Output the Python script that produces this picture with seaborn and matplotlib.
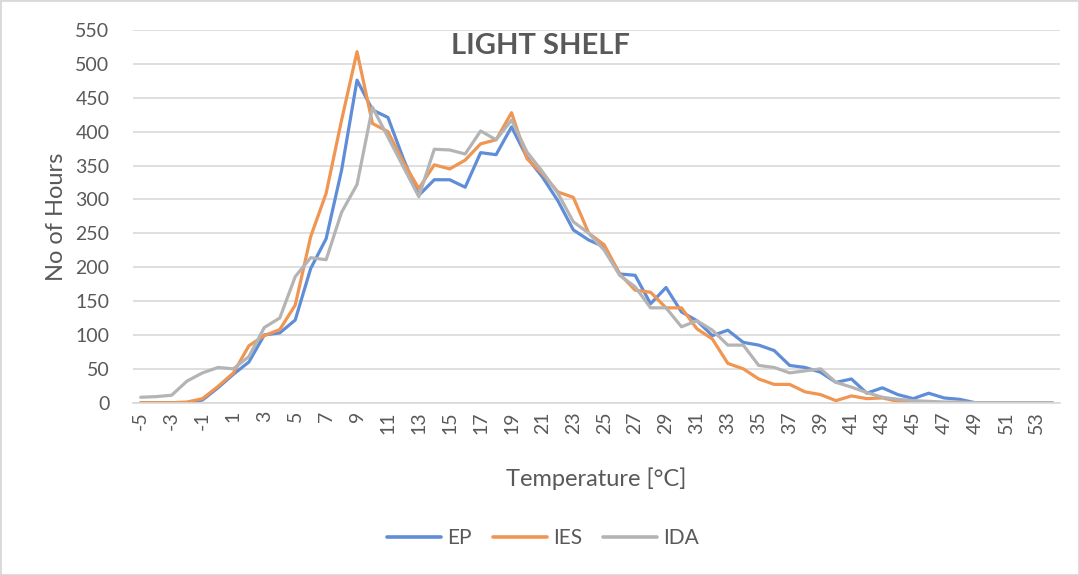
import pandas as pd
import seaborn as sns
import matplotlib.pyplot as plt
from matplotlib.patches import Rectangle


temperaturas = [-5, -4, -3, -2, -1, 0, 1, 2, 3, 4, 5, 6, 7, 8, 9, 10, 11, 12, 13, 14,
                15, 16, 17, 18, 19, 20, 21, 22, 23, 24, 25, 26, 27, 28, 29, 30, 31, 32, 33, 34,
                35, 36, 37, 38, 39, 40, 41, 42, 43, 44, 45, 46, 47, 48, 49, 50, 51, 52, 53, 54]

ep = [0, 0, 0, 0, 4, 22, 42, 60, 100, 103, 122, 198, 242, 343, 476, 432, 421, 360, 306, 329,
      329, 318, 369, 366, 407, 362, 333, 298, 255, 240, 230, 190, 188, 146, 170, 134, 121, 99, 107, 89,
      85, 77, 55, 52, 45, 30, 35, 14, 22, 12, 6, 14, 7, 5, 0, 0, 0, 0, 0, 0]

ies = [0, 0, 0, 1, 6, 24, 44, 84, 99, 108, 144, 245, 309, 417, 518, 412, 400, 355, 316, 351,
       345, 358, 382, 388, 428, 360, 338, 311, 303, 250, 233, 190, 166, 163, 140, 140, 109, 94, 58, 50,
       35, 27, 27, 16, 12, 3, 10, 6, 7, 2, 1, 0, 0, 0, 0, 0, 0, 0, 0, 0]

ida = [8, 9, 11, 32, 44, 52, 50, 68, 111, 125, 186, 214, 211, 281, 322, 436, 392, 348, 304, 374,
       373, 367, 401, 388, 417, 370, 341, 309, 267, 250, 225, 188, 171, 140, 140, 112, 121, 107, 85, 85,
       55, 52, 44, 47, 50, 30, 23, 15, 8, 5, 3, 2, 1, 1, 0, 0, 0, 0, 0, 0]

series = ["EP", "IES", "IDA"]
cores = {"EP": "#5F8DD7", "IES": "#F09552", "IDA": "#B4B4B4"}

df = pd.DataFrame({
    "temperatura": temperaturas * 3,
    "horas": ep + ies + ida,
    "serie": ["EP"] * len(ep) + ["IES"] * len(ies) + ["IDA"] * len(ida),
})

sns.set_style("white")
plt.rcParams["font.family"] = ["Lato", "DejaVu Sans"]
cinza_texto = "#595959"

fig = plt.figure(figsize=(10.79, 5.75), dpi=100)
ax = fig.add_axes([133 / 1079, 1 - 402.7 / 575, 927 / 1079, 372.7 / 575])

sns.lineplot(data=df, x="temperatura", y="horas", hue="serie", hue_order=series,
             palette=cores, linewidth=2.3, ax=ax, legend=False)

ax.set_xlim(-5.5, 54.5)
ax.set_ylim(0, 550)
ax.set_yticks(range(0, 551, 50))
ax.set_xticks(temperaturas[::2])
ax.set_xticklabels([str(t) for t in temperaturas[::2]], rotation=90)
ax.tick_params(axis="both", length=0, labelsize=14, colors=cinza_texto)
ax.tick_params(axis="x", pad=6)
ax.tick_params(axis="y", pad=17)
ax.grid(axis="y", color="#d9d9d9", linewidth=1.2)
ax.set_axisbelow(True)
for lado in ["top", "right", "left"]:
    ax.spines[lado].set_visible(False)
ax.spines["bottom"].set_color("#d9d9d9")
ax.spines["bottom"].set_linewidth(1.2)

ax.set_xlabel("Temperature [°C]", fontsize=17, color=cinza_texto, labelpad=24)
ax.set_ylabel("No of Hours", fontsize=17, color=cinza_texto, labelpad=6)

fig.text(540 / 1079, 1 - 46 / 575, "LIGHT SHELF", ha="center", va="center",
         fontsize=21, fontweight="bold", color=cinza_texto)

# Legenda embaixo do gráfico
handles = [plt.Line2D([], [], color=cores[s], linewidth=2.6) for s in series]
fig.legend(handles, series, loc="center", bbox_to_anchor=(543 / 1079, 1 - 538 / 575),
           ncol=3, frameon=False, fontsize=15, labelcolor=cinza_texto,
           handlelength=2.6, columnspacing=1.0, handletextpad=0.3)

fig.patches.append(Rectangle((0, 0), 1, 1, transform=fig.transFigure, fill=False,
                             edgecolor="#d9d9d9", linewidth=2))

fig.savefig("out.png", dpi=100)
